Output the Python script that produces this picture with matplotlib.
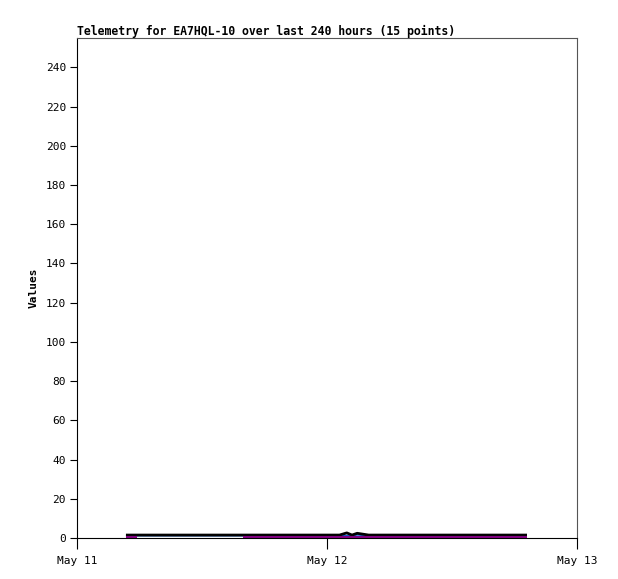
import numpy as np
import matplotlib
matplotlib.use("Agg")
import matplotlib.pyplot as plt
import matplotlib.dates as mdates
from datetime import datetime, timedelta

# hours after May 11 00:00
hours = [4.7, 5.8, 15.9, 18.0, 21.0, 24.0, 25.2, 25.9, 26.4, 26.9, 28.0, 32.0, 36.0, 40.0, 43.2]
black_vals = [1.5, 1.5, 1.5, 1.5, 1.5, 1.5, 1.5, 2.6, 1.5, 2.4, 1.5, 1.5, 1.5, 1.5, 1.5]
purple_vals = [0.5, 0.5, 0.5, 0.5, 0.5, 0.5, 0.5, 0.5, 0.5, 0.5, 0.5, 0.5, 0.5, 0.5, 0.5]
blue_vals = [1.2, 1.2, 1.2, 1.2, 1.2, 1.2, 1.2, 1.2, 1.2, 1.6, 1.2, 1.2, 1.2, 1.2, 1.2]

start = datetime(2024, 5, 11)
times = [start + timedelta(hours=h) for h in hours]

plt.rcParams['font.family'] = 'DejaVu Sans Mono'
fig = plt.figure(figsize=(6.18, 5.79), dpi=100)
ax = fig.add_axes([77/618, 41/579, 500/618, 500/579])

# purple series is not joined across long gaps
pt = np.array(hours)
pv = np.array(purple_vals, dtype=float)
seg_starts = [0] + [i + 1 for i in range(len(pt) - 1) if pt[i + 1] - pt[i] > 6]
seg_ends = seg_starts[1:] + [len(pt)]
ax.plot(times, black_vals, color='black', lw=2, solid_capstyle='butt', zorder=2)
ax.plot(times, blue_vals, color='#1060d0', lw=1.2, solid_capstyle='butt', zorder=1)
for s, e in zip(seg_starts, seg_ends):
    ax.plot(times[s:e], pv[s:e], color='#800080', lw=1.5, solid_capstyle='butt', zorder=3)

ax.set_xlim(start, start + timedelta(days=2))
ax.set_ylim(0, 255)
ax.set_yticks(range(0, 241, 20))
ax.xaxis.set_major_locator(mdates.DayLocator())
ax.xaxis.set_major_formatter(mdates.DateFormatter('%b %d'))
ax.tick_params(axis='y', length=5, labelsize=8, pad=3)
ax.tick_params(axis='x', length=8, labelsize=8, pad=5)

for side in ['top', 'right']:
    ax.spines[side].set_color('#555555')
for side in ['left', 'bottom']:
    ax.spines[side].set_color('black')

ax.set_ylabel('Values', fontsize=8, fontweight='bold', labelpad=5)
ax.set_title('Telemetry for EA7HQL-10 over last 240 hours (15 points)',
             fontsize=8.3, fontweight='bold', loc='left', pad=2)

fig.savefig('out.png', dpi=100)
